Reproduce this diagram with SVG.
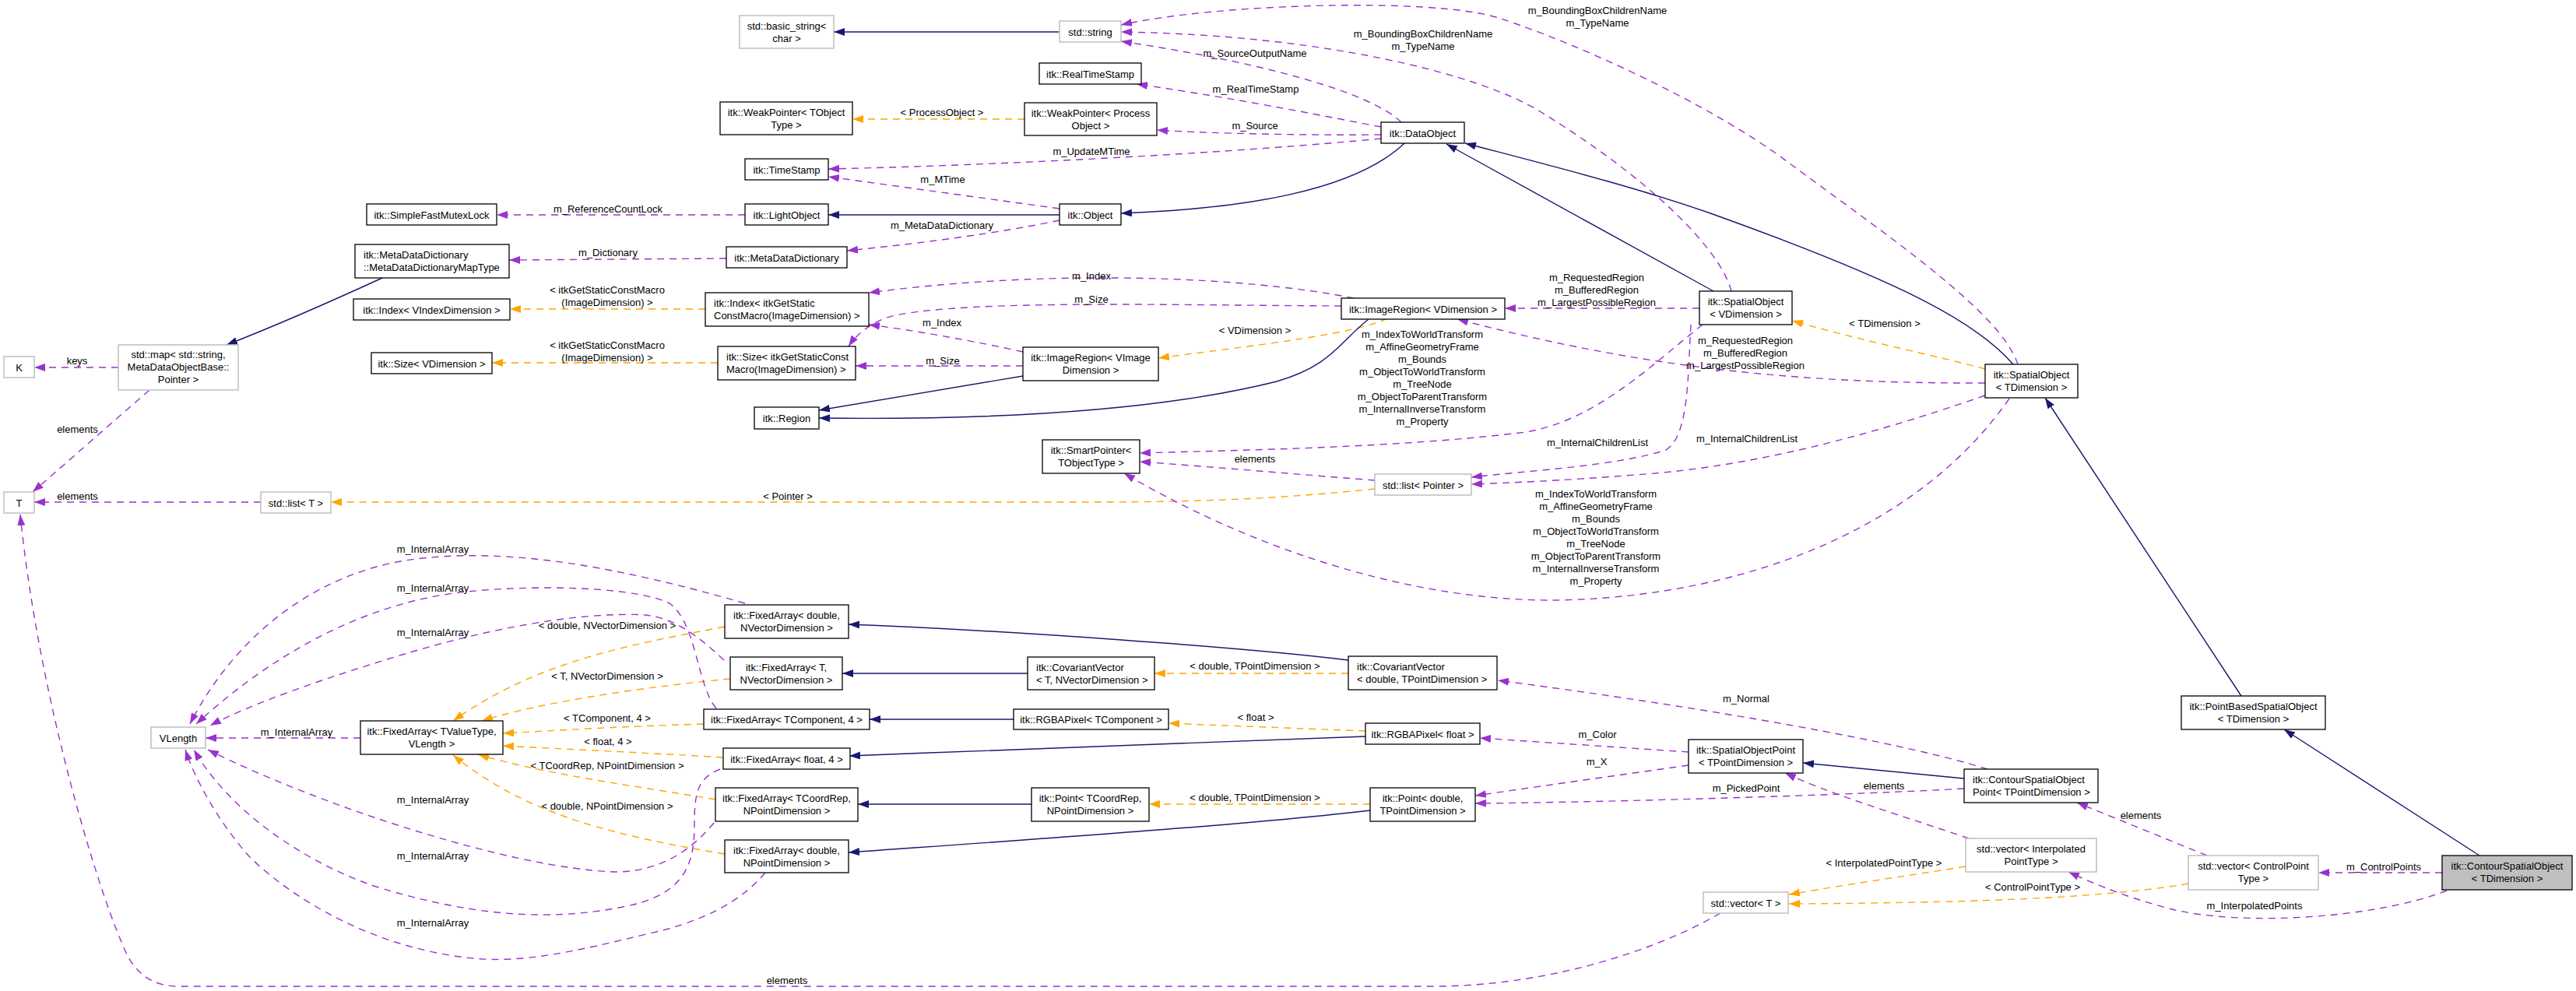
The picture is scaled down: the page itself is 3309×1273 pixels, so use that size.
<svg xmlns="http://www.w3.org/2000/svg" width="3309" height="1273" viewBox="0 0 3309 1273">
<style>
text{font-family:"Liberation Sans",Arial,sans-serif;font-size:13px;fill:#000}
.c{text-anchor:middle}
.node rect{fill:#fff;stroke:#000;stroke-width:1.3}
.gray rect{stroke:#bfbfbf;stroke-width:1.5}
.focus rect{fill:#bfbfbf}
#edges path{fill:none;stroke-width:1.4}
.nv{stroke:#191970}
.pu{stroke:#9a32cd;stroke-dasharray:9,7}
.or{stroke:#ffa500;stroke-dasharray:9,7}
</style>
<defs>
<marker id="an" markerUnits="userSpaceOnUse" markerWidth="15" markerHeight="11" refX="14" refY="5" orient="auto"><path d="M0,0L14,5L0,10z" fill="#191970"/></marker>
<marker id="ap" markerUnits="userSpaceOnUse" markerWidth="15" markerHeight="11" refX="14" refY="5" orient="auto"><path d="M0,0L14,5L0,10z" fill="#9a32cd"/></marker>
<marker id="ao" markerUnits="userSpaceOnUse" markerWidth="15" markerHeight="11" refX="14" refY="5" orient="auto"><path d="M0,0L14,5L0,10z" fill="#ffa500"/></marker>
</defs>
<rect width="3309" height="1273" fill="#fff"/>
<g id="edges">
<path class="nv" marker-end="url(#an)" d="M1361,41 L1071,41"/>
<path class="pu" marker-end="url(#ap)" d="M1800,157 C1760,118 1620,80 1440,53"/>
<path class="pu" marker-end="url(#ap)" d="M2224,374 C2210,320 2120,230 1978,143 C1900,95 1700,45 1440,41"/>
<path class="pu" marker-end="url(#ap)" d="M2592,468 C2570,400 2420,300 2295,207 C2200,136 2030,57 1925,23 C1840,-4 1560,5 1440,32"/>
<path class="pu" marker-end="url(#ap)" d="M1774,163 C1720,153 1600,128 1460,108"/>
<path class="pu" marker-end="url(#ap)" d="M1774,173 C1700,174 1560,172 1486,167"/>
<path class="or" marker-end="url(#ao)" d="M1316,153 L1095,153"/>
<path class="pu" marker-end="url(#ap)" d="M1774,178 C1600,195 1300,212 1064,217"/>
<path class="pu" marker-end="url(#ap)" d="M1361,268 L1064,227"/>
<path class="nv" marker-end="url(#an)" d="M1361,276 L1064,276"/>
<path class="pu" marker-end="url(#ap)" d="M957,276 L638,276"/>
<path class="pu" marker-end="url(#ap)" d="M1361,283 C1290,298 1190,312 1088,322"/>
<path class="pu" marker-end="url(#ap)" d="M933,332 L654,334"/>
<path class="nv" marker-end="url(#an)" d="M1804,184 C1740,245 1600,268 1440,274"/>
<path class="nv" marker-end="url(#an)" d="M2201,374 L1858,185"/>
<path class="nv" marker-end="url(#an)" d="M2586,468 C2540,415 2450,365 2200,275 C2100,240 2000,215 1882,184"/>
<path class="pu" marker-end="url(#ap)" d="M1739,383 C1600,355 1350,345 1116,376"/>
<path class="pu" marker-end="url(#ap)" d="M1723,393 C1500,392 1250,385 1150,405 C1120,412 1100,430 1090,445"/>
<path class="pu" marker-end="url(#ap)" d="M1314,452 C1260,440 1180,425 1116,417"/>
<path class="pu" marker-end="url(#ap)" d="M1314,470 L1099,470"/>
<path class="or" marker-end="url(#ao)" d="M1782,409 C1740,430 1600,445 1488,460"/>
<path class="nv" marker-end="url(#an)" d="M1758,410 C1720,440 1710,470 1640,490 C1500,525 1300,540 1052,537"/>
<path class="nv" marker-end="url(#an)" d="M1314,483 L1052,527"/>
<path class="or" marker-end="url(#ao)" d="M906,397 L655,397"/>
<path class="or" marker-end="url(#ao)" d="M922,466 L632,466"/>
<path class="nv" marker-end="url(#an)" d="M491,357 C430,385 350,420 291,443"/>
<path class="pu" marker-end="url(#ap)" d="M152,472 L44,472"/>
<path class="pu" marker-end="url(#ap)" d="M192,501 L42,632"/>
<path class="pu" marker-end="url(#ap)" d="M335,645 L44,645"/>
<path class="or" marker-end="url(#ao)" d="M1766,628 C1650,640 1550,645 1400,645 L425,645"/>
<path class="pu" marker-end="url(#ap)" d="M1766,617 C1700,612 1560,600 1464,593"/>
<path class="pu" marker-end="url(#ap)" d="M2187,417 C2120,470 2050,540 1960,555 C1800,575 1600,578 1464,582"/>
<path class="pu" marker-end="url(#ap)" d="M2172,417 C2168,480 2170,560 2140,578 C2080,598 1960,605 1890,613"/>
<path class="pu" marker-end="url(#ap)" d="M2550,508 C2400,560 2250,600 2100,610 C2000,618 1940,620 1890,622"/>
<path class="pu" marker-end="url(#ap)" d="M2581,512 C2450,700 2200,770 1990,771 C1800,770 1600,700 1444,608"/>
<path class="pu" marker-end="url(#ap)" d="M2550,492 C2300,493 2100,470 1872,410"/>
<path class="pu" marker-end="url(#ap)" d="M2183,396 L1933,396"/>
<path class="or" marker-end="url(#ao)" d="M2550,474 C2480,455 2400,440 2302,412"/>
<path class="nv" marker-end="url(#an)" d="M2879,894 L2627,511"/>
<path class="nv" marker-end="url(#an)" d="M3185,1099 L2934,937"/>
<path class="pu" marker-end="url(#ap)" d="M3137,1121 L2978,1121"/>
<path class="pu" marker-end="url(#ap)" d="M3143,1144 C3050,1180 2880,1190 2790,1168 C2740,1155 2700,1140 2657,1120"/>
<path class="pu" marker-end="url(#ap)" d="M2835,1099 L2668,1031"/>
<path class="or" marker-end="url(#ao)" d="M2811,1135 C2700,1155 2500,1160 2298,1161"/>
<path class="or" marker-end="url(#ao)" d="M2525,1113 C2450,1125 2380,1135 2298,1149"/>
<path class="pu" marker-end="url(#ap)" d="M2529,1077 C2450,1050 2350,1020 2293,993"/>
<path class="nv" marker-end="url(#an)" d="M2523,1000 L2316,980"/>
<path class="pu" marker-end="url(#ap)" d="M2553,988 C2450,955 2200,910 1924,874"/>
<path class="pu" marker-end="url(#ap)" d="M2523,1013 C2400,1020 2100,1030 1895,1032"/>
<path class="pu" marker-end="url(#ap)" d="M2169,966 L1901,948"/>
<path class="pu" marker-end="url(#ap)" d="M2169,983 L1895,1022"/>
<path class="or" marker-end="url(#ao)" d="M1754,939 C1700,937 1600,933 1501,929"/>
<path class="nv" marker-end="url(#an)" d="M1754,946 C1500,955 1300,963 1091,971"/>
<path class="nv" marker-end="url(#an)" d="M1302,924 L1117,924"/>
<path class="or" marker-end="url(#ao)" d="M1760,1033 L1476,1033"/>
<path class="nv" marker-end="url(#an)" d="M1760,1041 C1600,1060 1300,1080 1090,1095"/>
<path class="nv" marker-end="url(#an)" d="M1325,1033 L1102,1033"/>
<path class="or" marker-end="url(#ao)" d="M1732,865 L1483,865"/>
<path class="nv" marker-end="url(#an)" d="M1732,848 C1600,832 1300,810 1090,802"/>
<path class="nv" marker-end="url(#an)" d="M1320,865 L1082,865"/>
<path class="or" marker-end="url(#ao)" d="M931,805 C800,830 690,850 582,926"/>
<path class="or" marker-end="url(#ao)" d="M938,872 C850,880 700,900 619,926"/>
<path class="or" marker-end="url(#ao)" d="M904,930 C800,933 720,938 646,942"/>
<path class="or" marker-end="url(#ao)" d="M929,973 C850,968 720,962 646,958"/>
<path class="or" marker-end="url(#ao)" d="M919,1027 C820,1010 700,995 614,969"/>
<path class="or" marker-end="url(#ao)" d="M931,1097 C800,1075 680,1050 582,970"/>
<path class="pu" marker-end="url(#ap)" d="M463,948 L264,948"/>
<path class="pu" marker-end="url(#ap)" d="M957,775 C800,730 650,700 520,720 C400,740 300,820 244,930"/>
<path class="pu" marker-end="url(#ap)" d="M920,910 C895,880 895,800 860,775 C820,755 700,750 600,760 C470,773 350,840 252,930"/>
<path class="pu" marker-end="url(#ap)" d="M930,848 C900,820 870,795 830,790 C740,785 620,810 520,840 C420,870 320,905 270,932"/>
<path class="pu" marker-end="url(#ap)" d="M917,1057 C890,1090 850,1120 790,1120 C650,1115 400,1030 267,963"/>
<path class="pu" marker-end="url(#ap)" d="M925,988 C895,1000 892,1020 892,1060 C892,1110 880,1150 800,1165 C700,1185 600,1175 480,1138 C400,1110 300,1050 249,963"/>
<path class="pu" marker-end="url(#ap)" d="M983,1121 C950,1160 900,1185 830,1200 C740,1222 680,1235 620,1232 C480,1222 370,1150 320,1100 C280,1055 250,1000 238,963"/>
<path class="pu" marker-end="url(#ap)" d="M2210,1173 C2120,1225 1980,1267 1840,1267 L230,1267 C200,1267 180,1255 165,1230 C130,1160 50,900 26,661"/>
</g>
<g id="edge-labels">
<text class="c" x="1612" y="72.5">m_SourceOutputName</text>
<text class="c" x="1613" y="118.5">m_RealTimeStamp</text>
<text class="c" x="1612" y="165.5">m_Source</text>
<text class="c" x="1402" y="198.5">m_UpdateMTime</text>
<text class="c" x="1211" y="234.5">m_MTime</text>
<text class="c" x="1210" y="293.5">m_MetaDataDictionary</text>
<text class="c" x="781" y="272.5">m_ReferenceCountLock</text>
<text class="c" x="781" y="328.5">m_Dictionary</text>
<text class="c" x="780" y="376.5">&lt; itkGetStaticConstMacro</text>
<text class="c" x="780" y="392.5">(ImageDimension) &gt;</text>
<text class="c" x="780" y="447.5">&lt; itkGetStaticConstMacro</text>
<text class="c" x="780" y="463.5">(ImageDimension) &gt;</text>
<text class="c" x="1210" y="148.5">&lt; ProcessObject &gt;</text>
<text class="c" x="1402" y="358.5">m_Index</text>
<text class="c" x="1402" y="388.5">m_Size</text>
<text class="c" x="1210" y="418.5">m_Index</text>
<text class="c" x="1211" y="467.5">m_Size</text>
<text class="c" x="1612" y="428.5">&lt; VDimension &gt;</text>
<text class="c" x="2052" y="17.5">m_BoundingBoxChildrenName</text>
<text class="c" x="2052" y="33.5">m_TypeName</text>
<text class="c" x="1828" y="47.5">m_BoundingBoxChildrenName</text>
<text class="c" x="1828" y="63.5">m_TypeName</text>
<text class="c" x="2051" y="360.5">m_RequestedRegion</text>
<text class="c" x="2051" y="376.5">m_BufferedRegion</text>
<text class="c" x="2051" y="392.5">m_LargestPossibleRegion</text>
<text class="c" x="2421" y="419.5">&lt; TDimension &gt;</text>
<text class="c" x="1827" y="433.5">m_IndexToWorldTransform</text>
<text class="c" x="1827" y="449.5">m_AffineGeometryFrame</text>
<text class="c" x="1827" y="465.5">m_Bounds</text>
<text class="c" x="1827" y="481.5">m_ObjectToWorldTransform</text>
<text class="c" x="1827" y="497.5">m_TreeNode</text>
<text class="c" x="1827" y="513.5">m_ObjectToParentTransform</text>
<text class="c" x="1827" y="529.5">m_InternalInverseTransform</text>
<text class="c" x="1827" y="545.5">m_Property</text>
<text class="c" x="2242" y="441.5">m_RequestedRegion</text>
<text class="c" x="2242" y="457.5">m_BufferedRegion</text>
<text class="c" x="2242" y="473.5">m_LargestPossibleRegion</text>
<text class="c" x="2052" y="572.5">m_InternalChildrenList</text>
<text class="c" x="2244" y="567.5">m_InternalChildrenList</text>
<text class="c" x="1612" y="593.5">elements</text>
<text class="c" x="1012" y="641.5">&lt; Pointer &gt;</text>
<text class="c" x="2050" y="638.5">m_IndexToWorldTransform</text>
<text class="c" x="2050" y="654.5">m_AffineGeometryFrame</text>
<text class="c" x="2050" y="670.5">m_Bounds</text>
<text class="c" x="2050" y="686.5">m_ObjectToWorldTransform</text>
<text class="c" x="2050" y="702.5">m_TreeNode</text>
<text class="c" x="2050" y="718.5">m_ObjectToParentTransform</text>
<text class="c" x="2050" y="734.5">m_InternalInverseTransform</text>
<text class="c" x="2050" y="750.5">m_Property</text>
<text class="c" x="99" y="467.5">keys</text>
<text class="c" x="99.5" y="555.5">elements</text>
<text class="c" x="99.5" y="641.5">elements</text>
<text class="c" x="556" y="709.5">m_InternalArray</text>
<text class="c" x="556" y="759.5">m_InternalArray</text>
<text class="c" x="556" y="816.5">m_InternalArray</text>
<text class="c" x="780" y="807.5">&lt; double, NVectorDimension &gt;</text>
<text class="c" x="780" y="872.5">&lt; T, NVectorDimension &gt;</text>
<text class="c" x="780" y="926.5">&lt; TComponent, 4 &gt;</text>
<text class="c" x="781" y="956.5">&lt; float, 4 &gt;</text>
<text class="c" x="780" y="987.5">&lt; TCoordRep, NPointDimension &gt;</text>
<text class="c" x="780" y="1039.5">&lt; double, NPointDimension &gt;</text>
<text class="c" x="381" y="944.5">m_InternalArray</text>
<text class="c" x="556" y="1031.5">m_InternalArray</text>
<text class="c" x="556" y="1103.5">m_InternalArray</text>
<text class="c" x="556" y="1189.5">m_InternalArray</text>
<text class="c" x="1612" y="859.5">&lt; double, TPointDimension &gt;</text>
<text class="c" x="1613" y="925.5">&lt; float &gt;</text>
<text class="c" x="1612" y="1028.5">&lt; double, TPointDimension &gt;</text>
<text class="c" x="1011" y="1263.5">elements</text>
<text class="c" x="2243" y="901.5">m_Normal</text>
<text class="c" x="2052" y="947.5">m_Color</text>
<text class="c" x="2051" y="982.5">m_X</text>
<text class="c" x="2243" y="1016.5">m_PickedPoint</text>
<text class="c" x="2420" y="1013.5">elements</text>
<text class="c" x="2420" y="1112.5">&lt; InterpolatedPointType &gt;</text>
<text class="c" x="2750" y="1051.5">elements</text>
<text class="c" x="2611" y="1143.5">&lt; ControlPointType &gt;</text>
<text class="c" x="3062" y="1117.5">m_ControlPoints</text>
<text class="c" x="2896" y="1167.5">m_InterpolatedPoints</text>
</g>
<g id="nodes">
<g id="n-basic-string" class="node gray"><rect x="950" y="20" width="121" height="42"/><text class="c" x="1010.5" y="37.5">std::basic_string&lt;</text><text class="c" x="1010.5" y="53.5">char &gt;</text></g>
<g id="n-std-string" class="node gray"><rect x="1361" y="27" width="79" height="27"/><text class="c" x="1400.5" y="45.5">std::string</text></g>
<g id="n-realtimestamp" class="node"><rect x="1335" y="81" width="131" height="27"/><text class="c" x="1400.5" y="99.5">itk::RealTimeStamp</text></g>
<g id="n-weakpointer-t" class="node"><rect x="925" y="131" width="170" height="42"/><text class="c" x="1010" y="148.5">itk::WeakPointer&lt; TObject</text><text class="c" x="1010" y="164.5">Type &gt;</text></g>
<g id="n-weakpointer-po" class="node"><rect x="1316" y="132" width="170" height="42"/><text class="c" x="1401" y="149.5">itk::WeakPointer&lt; Process</text><text class="c" x="1401" y="165.5">Object &gt;</text></g>
<g id="n-timestamp" class="node"><rect x="957" y="204" width="107" height="27"/><text class="c" x="1010.5" y="222.5">itk::TimeStamp</text></g>
<g id="n-dataobject" class="node"><rect x="1774" y="157" width="107" height="27"/><text class="c" x="1827.5" y="175.5">itk::DataObject</text></g>
<g id="n-lightobject" class="node"><rect x="957" y="262" width="107" height="27"/><text class="c" x="1010.5" y="280.5">itk::LightObject</text></g>
<g id="n-object" class="node"><rect x="1361" y="262" width="79" height="27"/><text class="c" x="1400.5" y="280.5">itk::Object</text></g>
<g id="n-mutex" class="node"><rect x="471" y="262" width="167" height="27"/><text class="c" x="554.5" y="280.5">itk::SimpleFastMutexLock</text></g>
<g id="n-mdd" class="node"><rect x="933" y="317" width="155" height="27"/><text class="c" x="1010.5" y="335.5">itk::MetaDataDictionary</text></g>
<g id="n-mddmap" class="node"><rect x="456" y="314" width="198" height="43"/><text x="467" y="331.5">itk::MetaDataDictionary</text><text x="467" y="347.5">::MetaDataDictionaryMapType</text></g>
<g id="n-index-v" class="node"><rect x="454" y="384" width="201" height="27"/><text class="c" x="554.5" y="402.5">itk::Index&lt; VIndexDimension &gt;</text></g>
<g id="n-index-i" class="node"><rect x="906" y="376" width="210" height="43"/><text x="917" y="393.5">itk::Index&lt; itkGetStatic</text><text x="917" y="409.5">ConstMacro(ImageDimension) &gt;</text></g>
<g id="n-imageregion-v" class="node"><rect x="1723" y="383" width="210" height="27"/><text class="c" x="1828" y="401.5">itk::ImageRegion&lt; VDimension &gt;</text></g>
<g id="n-so-v" class="node"><rect x="2183" y="374" width="119" height="43"/><text class="c" x="2242.5" y="391.5">itk::SpatialObject</text><text class="c" x="2242.5" y="407.5">&lt; VDimension &gt;</text></g>
<g id="n-k" class="node gray"><rect x="5" y="458" width="39" height="27"/><text class="c" x="24.5" y="476.5">K</text></g>
<g id="n-map" class="node gray"><rect x="152" y="443" width="154" height="58"/><text class="c" x="229" y="459.5">std::map&lt; std::string,</text><text class="c" x="229" y="475.5">MetaDataObjectBase::</text><text class="c" x="229" y="491.5">Pointer &gt;</text></g>
<g id="n-size-v" class="node"><rect x="477" y="453" width="155" height="27"/><text class="c" x="554.5" y="471.5">itk::Size&lt; VDimension &gt;</text></g>
<g id="n-size-i" class="node"><rect x="922" y="445" width="177" height="43"/><text x="933" y="462.5">itk::Size&lt; itkGetStaticConst</text><text x="933" y="478.5">Macro(ImageDimension) &gt;</text></g>
<g id="n-imageregion-vi" class="node"><rect x="1314" y="446" width="174" height="43"/><text class="c" x="1401" y="463.5">itk::ImageRegion&lt; VImage</text><text class="c" x="1401" y="479.5">Dimension &gt;</text></g>
<g id="n-region" class="node"><rect x="969" y="523" width="83" height="28"/><text class="c" x="1010.5" y="541.5">itk::Region</text></g>
<g id="n-so-t" class="node"><rect x="2550" y="468" width="119" height="43"/><text class="c" x="2609.5" y="485.5">itk::SpatialObject</text><text class="c" x="2609.5" y="501.5">&lt; TDimension &gt;</text></g>
<g id="n-smartpointer" class="node"><rect x="1339" y="565" width="125" height="43"/><text class="c" x="1401.5" y="582.5">itk::SmartPointer&lt;</text><text class="c" x="1401.5" y="598.5">TObjectType &gt;</text></g>
<g id="n-t" class="node gray"><rect x="5" y="632" width="39" height="27"/><text class="c" x="24.5" y="650.5">T</text></g>
<g id="n-list-t" class="node gray"><rect x="335" y="632" width="90" height="27"/><text class="c" x="380" y="650.5">std::list&lt; T &gt;</text></g>
<g id="n-list-p" class="node gray"><rect x="1766" y="609" width="124" height="27"/><text class="c" x="1828" y="627.5">std::list&lt; Pointer &gt;</text></g>
<g id="n-fa-dnv" class="node"><rect x="931" y="777" width="159" height="43"/><text class="c" x="1010.5" y="794.5">itk::FixedArray&lt; double,</text><text class="c" x="1010.5" y="810.5">NVectorDimension &gt;</text></g>
<g id="n-fa-tnv" class="node"><rect x="938" y="844" width="144" height="42"/><text class="c" x="1010" y="861.5">itk::FixedArray&lt; T,</text><text class="c" x="1010" y="877.5">NVectorDimension &gt;</text></g>
<g id="n-cv-tnv" class="node"><rect x="1320" y="844" width="163" height="42"/><text x="1331" y="861.5">itk::CovariantVector</text><text x="1331" y="877.5">&lt; T, NVectorDimension &gt;</text></g>
<g id="n-cv-dtp" class="node"><rect x="1732" y="843" width="191" height="43"/><text x="1743" y="860.5">itk::CovariantVector</text><text x="1743" y="876.5">&lt; double, TPointDimension &gt;</text></g>
<g id="n-fa-tv" class="node"><rect x="463" y="926" width="183" height="43"/><text class="c" x="554.5" y="943.5">itk::FixedArray&lt; TValueType,</text><text class="c" x="554.5" y="959.5">VLength &gt;</text></g>
<g id="n-vlength" class="node gray"><rect x="194" y="934" width="70" height="27"/><text class="c" x="229" y="952.5">VLength</text></g>
<g id="n-fa-tc4" class="node"><rect x="904" y="911" width="213" height="26"/><text class="c" x="1010.5" y="929">itk::FixedArray&lt; TComponent, 4 &gt;</text></g>
<g id="n-rgba-tc" class="node"><rect x="1302" y="911" width="199" height="26"/><text class="c" x="1401.5" y="929">itk::RGBAPixel&lt; TComponent &gt;</text></g>
<g id="n-rgba-f" class="node"><rect x="1754" y="929" width="147" height="27"/><text class="c" x="1827.5" y="947.5">itk::RGBAPixel&lt; float &gt;</text></g>
<g id="n-fa-f4" class="node"><rect x="929" y="961" width="163" height="27"/><text class="c" x="1010.5" y="979.5">itk::FixedArray&lt; float, 4 &gt;</text></g>
<g id="n-sop" class="node"><rect x="2169" y="950" width="147" height="43"/><text class="c" x="2242.5" y="967.5">itk::SpatialObjectPoint</text><text class="c" x="2242.5" y="983.5">&lt; TPointDimension &gt;</text></g>
<g id="n-fa-cnp" class="node"><rect x="919" y="1012" width="183" height="43"/><text class="c" x="1010.5" y="1029.5">itk::FixedArray&lt; TCoordRep,</text><text class="c" x="1010.5" y="1045.5">NPointDimension &gt;</text></g>
<g id="n-pt-cnp" class="node"><rect x="1325" y="1012" width="151" height="43"/><text class="c" x="1400.5" y="1029.5">itk::Point&lt; TCoordRep,</text><text class="c" x="1400.5" y="1045.5">NPointDimension &gt;</text></g>
<g id="n-pt-dtp" class="node"><rect x="1760" y="1012" width="135" height="43"/><text class="c" x="1827.5" y="1029.5">itk::Point&lt; double,</text><text class="c" x="1827.5" y="1045.5">TPointDimension &gt;</text></g>
<g id="n-fa-dnp" class="node"><rect x="931" y="1079" width="159" height="42"/><text class="c" x="1010.5" y="1096.5">itk::FixedArray&lt; double,</text><text class="c" x="1010.5" y="1112.5">NPointDimension &gt;</text></g>
<g id="n-csop" class="node"><rect x="2523" y="988" width="172" height="43"/><text x="2534" y="1005.5">itk::ContourSpatialObject</text><text x="2534" y="1021.5">Point&lt; TPointDimension &gt;</text></g>
<g id="n-pbso" class="node"><rect x="2802" y="894" width="185" height="43"/><text class="c" x="2894.5" y="911.5">itk::PointBasedSpatialObject</text><text class="c" x="2894.5" y="927.5">&lt; TDimension &gt;</text></g>
<g id="n-vec-ipt" class="node gray"><rect x="2525" y="1077" width="168" height="43"/><text class="c" x="2609" y="1094.5">std::vector&lt; Interpolated</text><text class="c" x="2609" y="1110.5">PointType &gt;</text></g>
<g id="n-vec-cpt" class="node gray"><rect x="2811" y="1099" width="167" height="44"/><text class="c" x="2894.5" y="1117">std::vector&lt; ControlPoint</text><text class="c" x="2894.5" y="1133">Type &gt;</text></g>
<g id="n-cso" class="node focus"><rect x="3137" y="1099" width="167" height="44"/><text class="c" x="3220.5" y="1117">itk::ContourSpatialObject</text><text class="c" x="3220.5" y="1133">&lt; TDimension &gt;</text></g>
<g id="n-vec-t" class="node gray"><rect x="2188" y="1146" width="109" height="27"/><text class="c" x="2242.5" y="1164.5">std::vector&lt; T &gt;</text></g>
</g>
</svg>
